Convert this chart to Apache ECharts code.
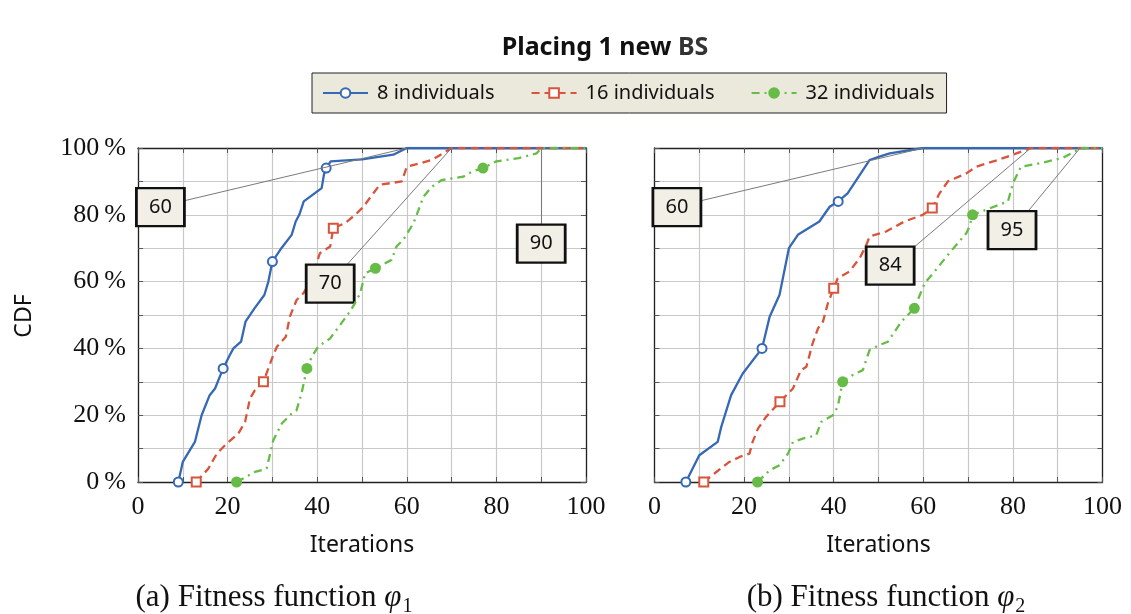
<!DOCTYPE html>
<html>
<head>
<meta charset="utf-8">
<script src="https://cdn.jsdelivr.net/npm/echarts@6/dist/echarts.min.js"></script>
<style>
  html, body { margin: 0; padding: 0; background: #fff; }
  #chart { width: 1131px; height: 614px; }
</style>
</head>
<body>
<div id="chart"></div>
<script>
// ---- data: CDF of iterations needed, [iteration, percent] ----
const seriesNames = ['8 individuals', '16 individuals', '32 individuals'];

// (a) fitness function phi1
const phi1_8 = [[9,0],[10,6],[12.7,12],[14.2,20],[16,26],[17.2,28],[19,34],[20.5,38],[21.3,40],[23,42],[24,48],[26,52],[28.2,56],[29.1,60],[30,66],[32,70],[34.3,74],[35.2,78],[36,80],[37,84],[41,88],[41.5,92],[42,94],[43,96],[50,96.6],[57,98],[60,100],[100,100]];
const phi1_16 = [[13,0],[15.7,4],[17.6,8.5],[19.8,11.5],[22.4,14.5],[23.9,18],[25,25],[26.1,27.5],[28,30],[30.2,38],[31,40.5],[33,43.5],[33.9,49.5],[35.4,54.5],[36.9,56.5],[38.5,60],[39.5,64],[40.6,68.5],[42.9,70.5],[43.6,76],[46.2,77.5],[48.5,80],[50.3,82.4],[52.5,86.4],[54,89],[58.9,90],[60,94.4],[65.6,96.4],[70,100],[100,100]];
const phi1_32 = [[22,0],[26.1,3],[28.7,4],[29.5,8.5],[30.2,12.5],[32.1,17.5],[34.3,20.5],[35.4,21.5],[36.5,26.5],[37.7,34],[38.8,37.5],[40.2,40.5],[42.9,43],[45.1,47],[47.3,51],[48.4,53.5],[49.6,56.5],[50.7,62.5],[53,64],[56.6,66.5],[57.7,70.5],[59.2,72.5],[61.5,77.5],[62.6,81.4],[63.7,85.4],[65.6,88.4],[67.8,90.4],[72.6,91.4],[74.5,92.9],[77,94],[80,96],[85,97],[89,98.4],[90,100],[100,100]];

// (b) fitness function phi2
const phi2_8 = [[7,0],[10,8],[14.1,12],[14.9,16.5],[17.1,26],[19.7,32.5],[24,40],[25.7,49.5],[27.9,56],[30,70],[32,74],[36.8,78],[39.1,82.4],[41,84],[43.1,86.4],[48,96.4],[50.2,97.4],[52.5,98.4],[60,100],[100,100]];
const phi2_16 = [[11,0],[13.8,3],[16.7,6],[19,7.5],[21.2,8.5],[21.9,12],[23.1,16],[24.9,19.5],[28,24],[30.9,28],[32.7,33.5],[33.9,34.5],[35.3,41.5],[36.5,46],[37.6,48],[38.7,53.5],[40,58],[40.9,61],[43.5,63],[45.8,67],[47.3,71],[48,73.5],[51.7,75],[55.8,78],[59.9,80],[62,82],[63.6,86.4],[65.5,90],[69.6,92.4],[71.8,94.4],[76.6,96.4],[80,98],[84,100],[100,100]];
const phi2_32 = [[23,0],[25.7,3.5],[27.9,5],[29.8,8.5],[30.9,12],[33.1,13],[36.1,14],[37.2,18],[39.8,20],[40.9,22.5],[42,30],[43.5,31.5],[46.5,33.5],[48,39.5],[50.2,41],[52.1,42],[55.1,48],[58,52],[60.3,59.5],[62.5,63],[65.8,68.5],[67.7,71.5],[69.6,74.5],[70.3,76.5],[71,80],[74,81.5],[78.9,84],[80,89.4],[81.8,94.4],[85.9,95.4],[91.1,97],[94.5,99.4],[95,100],[100,100]];

// indices of the points that carry a plot mark
const marks1_8 = [0, 6, 14, 22];
const marks1_16 = [0, 8, 19];
const marks1_32 = [0, 9, 18, 29];
const marks2_8 = [0, 6, 13];
const marks2_16 = [0, 8, 16, 25];
const marks2_32 = [0, 10, 17, 24];

// iteration at which each CDF first reaches 100 %
const reach1 = [60, 70, 90];
const reach2 = [60, 84, 95];

const xTicks = [0, 20, 40, 60, 80, 100];
const yTicks = [0, 20, 40, 60, 80, 100];

// ---- styling ----
const colors = ['#3568b5', '#d8543b', '#66bc46'];
const dashes = ['solid', [8, 5], [8, 5, 2, 5]];
const symbols = ['emptyCircle', 'emptyRect', 'circle'];
const serif = '"Liberation Serif", "DejaVu Serif", serif';
const sans = '"Noto Sans", "DejaVu Sans", sans-serif';

// callout boxes: label value, box centre and line start (data coords)
const callouts1 = [
  { v: reach1[0], box: [5, 82.3], from: [10, 84.1] },
  { v: reach1[1], box: [42.9, 59.4], from: [46.6, 65] },
  { v: reach1[2], box: [90, 71.4], from: [90, 77.2] }
];
const callouts2 = [
  { v: reach2[0], box: [5, 82.3], from: [10, 84.1] },
  { v: reach2[1], box: [52.6, 64.8], from: [58, 70.4] },
  { v: reach2[2], box: [79.8, 75.4], from: [83.4, 81.1] }
];

const chart = echarts.init(document.getElementById('chart'), null, { renderer: 'canvas' });

const gridBox = [
  { left: 138, top: 148, width: 448, height: 334 },
  { left: 654.5, top: 148, width: 448, height: 334 }
];

function xAxes(gi) {
  const base = {
    type: 'value', gridIndex: gi, min: 0, max: 100, interval: 10,
    axisLine: { show: true, onZero: false, lineStyle: { color: '#222', width: 1.3 } },
    axisTick: { show: true, inside: true, length: 5, lineStyle: { color: '#555', width: 1 } }
  };
  return [
    Object.assign({}, base, {
      position: 'bottom',
      splitLine: { show: true, lineStyle: { color: '#c9c9c9', width: 1.2 } },
      axisLabel: {
        margin: 12, fontFamily: serif, fontSize: 26, color: '#111',
        formatter: v => xTicks.includes(v) ? String(v) : ''
      }
    }),
    Object.assign({}, base, {
      position: 'top', splitLine: { show: false }, axisLabel: { show: false }
    })
  ];
}

function yAxes(gi, labels) {
  const base = {
    type: 'value', gridIndex: gi, min: 0, max: 100, interval: 10,
    axisLine: { show: true, onZero: false, lineStyle: { color: '#222', width: 1.3 } },
    axisTick: { show: true, inside: true, length: 5, lineStyle: { color: '#555', width: 1 } }
  };
  return [
    Object.assign({}, base, {
      position: 'left',
      splitLine: { show: true, lineStyle: { color: '#c9c9c9', width: 1.2 } },
      axisLabel: {
        show: labels, margin: 12, fontFamily: serif, fontSize: 26, color: '#111',
        formatter: v => yTicks.includes(v) ? v + '\u2009%' : ''
      }
    }),
    Object.assign({}, base, {
      position: 'right', splitLine: { show: false }, axisLabel: { show: false }
    })
  ];
}

function curve(gi, k, pts, marks) {
  return {
    type: 'line', name: seriesNames[k],
    xAxisIndex: gi * 2, yAxisIndex: gi * 2,
    data: pts.map((p, i) => marks.includes(i) ? { value: p } : { value: p, symbol: 'none' }),
    symbol: symbols[k], symbolSize: 9, showSymbol: true, showAllSymbol: true,
    color: colors[k],
    lineStyle: { color: colors[k], width: 2.3, type: dashes[k] },
    itemStyle: { color: colors[k], borderColor: colors[k], borderWidth: 2 },
    emphasis: { disabled: true },
    animation: false, z: 3 + k
  };
}

function calloutSeries(gi, list) {
  return {
    type: 'line', name: 'callouts' + gi, data: [],
    xAxisIndex: gi * 2, yAxisIndex: gi * 2, animation: false, silent: true, z: 10,
    markLine: {
      silent: true, symbol: 'none', animation: false,
      lineStyle: { color: '#7a7a7a', width: 1, type: 'solid' },
      label: { show: false },
      data: list.map(c => [{ coord: c.from }, { coord: [c.v, 100] }])
    },
    markPoint: {
      silent: true, animation: false,
      symbol: 'rect', symbolSize: [48, 38],
      itemStyle: { color: '#f2efe7', borderColor: '#111', borderWidth: 2.5 },
      label: { show: true, position: 'inside', color: '#111', fontFamily: sans, fontSize: 20 },
      data: list.map(c => ({ coord: c.box, value: c.v, label: { formatter: String(c.v) } }))
    }
  };
}

const captionRich = {
  t: { fontFamily: serif, fontSize: 31, fill: '#111', lineHeight: 38 },
  p: { fontFamily: serif, fontStyle: 'italic', fontSize: 31, fill: '#111', lineHeight: 38 },
  s: { fontFamily: serif, fontSize: 20, fill: '#111', lineHeight: 38, verticalAlign: 'bottom', padding: [0, 0, 0, 1] }
};

const option = {
  backgroundColor: '#fff',
  animation: false,
  grid: gridBox.map(g => Object.assign({ containLabel: false }, g)),
  xAxis: [...xAxes(0), ...xAxes(1)],
  yAxis: [...yAxes(0, true), ...yAxes(1, false)],
  legend: {
    data: seriesNames,
    left: 312, top: 73,
    orient: 'horizontal',
    itemWidth: 45, itemHeight: 12, itemGap: 36,
    padding: [9, 12, 9, 10],
    backgroundColor: '#ebe8dc', borderColor: '#222', borderWidth: 1,
    selectedMode: false,
    textStyle: { fontFamily: sans, fontSize: 20, color: '#111', lineHeight: 22, padding: [0, 0, 0, 4] }
  },
  series: [
    curve(0, 0, phi1_8, marks1_8),
    curve(0, 1, phi1_16, marks1_16),
    curve(0, 2, phi1_32, marks1_32),
    curve(1, 0, phi2_8, marks2_8),
    curve(1, 1, phi2_16, marks2_16),
    curve(1, 2, phi2_32, marks2_32),
    calloutSeries(0, callouts1),
    calloutSeries(1, callouts2)
  ],
  graphic: [
    { type: 'text', x: 605, y: 48, style: {
        text: '{b|Placing 1 new }{g|BS}', align: 'center', verticalAlign: 'middle',
        rich: {
          b: { fontFamily: sans, fontWeight: 'bold', fontSize: 25, fill: '#111' },
          g: { fontFamily: sans, fontWeight: 'bold', fontSize: 25, fill: '#333' }
        } } },
    { type: 'text', x: 362, y: 545, style: {
        text: 'Iterations', align: 'center', verticalAlign: 'middle',
        fontFamily: sans, fontSize: 23, fill: '#111' } },
    { type: 'text', x: 878.5, y: 545, style: {
        text: 'Iterations', align: 'center', verticalAlign: 'middle',
        fontFamily: sans, fontSize: 23, fill: '#111' } },
    { type: 'text', x: 24, y: 316, rotation: Math.PI / 2, style: {
        text: 'CDF', align: 'center', verticalAlign: 'middle',
        fontFamily: sans, fontSize: 23, fill: '#111' } },
    { type: 'text', x: 274, y: 598, style: {
        text: '{t|(a) Fitness function }{p|\u03C6}{s|1}', align: 'center', verticalAlign: 'middle',
        rich: captionRich } },
    { type: 'text', x: 886, y: 598, style: {
        text: '{t|(b) Fitness function }{p|\u03C6}{s|2}', align: 'center', verticalAlign: 'middle',
        rich: captionRich } }
  ]
};

chart.setOption(option);
</script>
</body>
</html>
